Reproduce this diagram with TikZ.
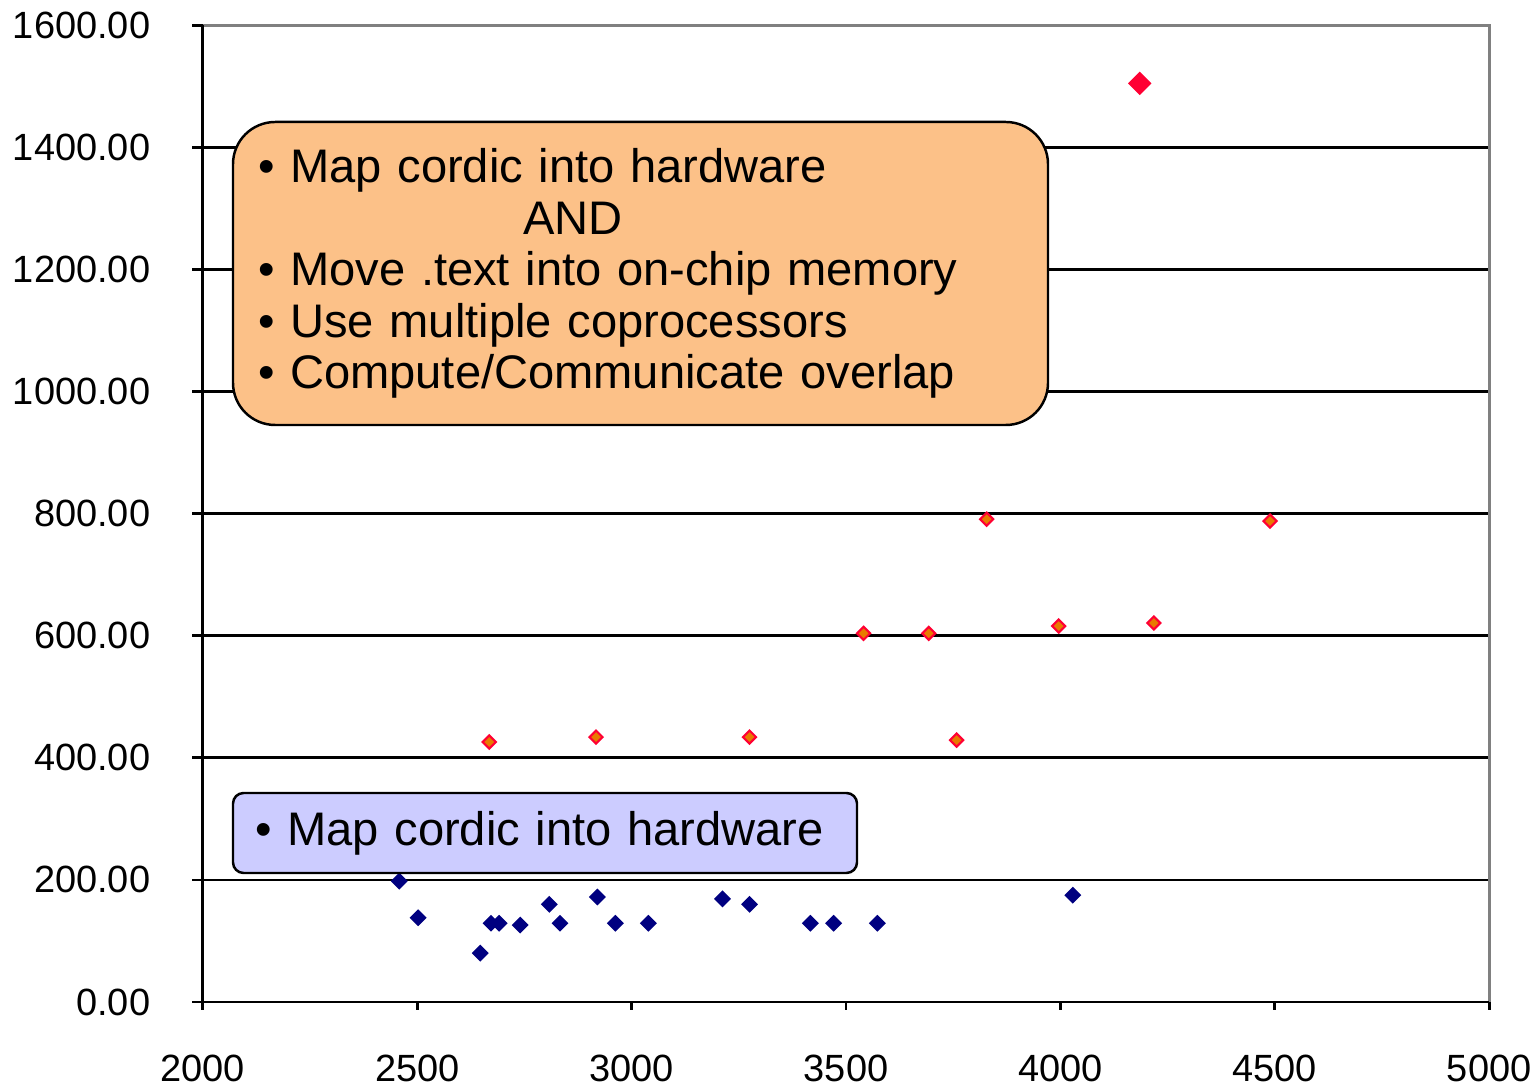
\documentclass[tikz,border=0pt]{standalone}
\usepackage{fontspec}
\setmainfont{Liberation Sans}
\usepackage{tikz}
\usetikzlibrary{shapes.geometric}
\definecolor{boxorange}{RGB}{252,193,136}
\definecolor{boxlilac}{RGB}{204,204,255}
\definecolor{ptnavy}{RGB}{0,0,128}
\definecolor{ptred}{RGB}{255,0,51}
\definecolor{ptorange}{RGB}{232,122,0}
\tikzset{
grid line/.style = { draw = black, line width = 0.8pt },
frame line/.style = { draw = black!50, line width = 0.9pt },
tick label/.style = { font = \fontsize{10.8}{12}\selectfont, inner sep = 0pt },
hw point/.style = { diamond, draw = ptnavy, fill = ptnavy, inner sep = 0pt, minimum size = 1.55mm },
ov point/.style = { diamond, draw = ptred, fill = ptorange, line width = 0.6pt, inner sep = 0pt, minimum size = 1.4mm },
big point/.style = { diamond, draw = ptred, fill = ptred, inner sep = 0pt, minimum size = 2.2mm },
note box/.style = { rectangle, draw = black, line width = 0.7pt, align = left, font = \fontsize{13.4}{14.65}\selectfont },
}

\begin{document}
\begin{tikzpicture}
    \useasboundingbox (0, 0) rectangle (15.39, 10.86);
    \begin{scope}[shift = {(-6.5466, 0.84)}, x = 0.0042833cm, y = 0.006106cm]
    % grid
    \path[grid line] (2000, 200) -- (5000, 200);
    \path[grid line] (2000, 400) -- (5000, 400);
    \path[grid line] (2000, 600) -- (5000, 600);
    \path[grid line] (2000, 800) -- (5000, 800);
    \path[grid line] (2000, 1000) -- (5000, 1000);
    \path[grid line] (2000, 1200) -- (5000, 1200);
    \path[grid line] (2000, 1400) -- (5000, 1400);
    \path[frame line] (2000, 1600) -- (5000, 1600) -- (5000, 0);
    % axes and ticks
    \path[grid line] (2000, 1600) -- (2000, 0) -- (5000, 0);
    \path[grid line] (2000, 0) -- ++(-0.11cm, 0pt);
    \path[grid line] (2000, 200) -- ++(-0.11cm, 0pt);
    \path[grid line] (2000, 400) -- ++(-0.11cm, 0pt);
    \path[grid line] (2000, 600) -- ++(-0.11cm, 0pt);
    \path[grid line] (2000, 800) -- ++(-0.11cm, 0pt);
    \path[grid line] (2000, 1000) -- ++(-0.11cm, 0pt);
    \path[grid line] (2000, 1200) -- ++(-0.11cm, 0pt);
    \path[grid line] (2000, 1400) -- ++(-0.11cm, 0pt);
    \path[grid line] (2000, 1600) -- ++(-0.11cm, 0pt);
    \path[grid line] (2000, 0) -- ++(0pt, -0.08cm);
    \path[grid line] (2500, 0) -- ++(0pt, -0.08cm);
    \path[grid line] (3000, 0) -- ++(0pt, -0.08cm);
    \path[grid line] (3500, 0) -- ++(0pt, -0.08cm);
    \path[grid line] (4000, 0) -- ++(0pt, -0.08cm);
    \path[grid line] (4500, 0) -- ++(0pt, -0.08cm);
    \path[grid line] (5000, 0) -- ++(0pt, -0.08cm);
    % tick labels
    \node[tick label, anchor = east, xshift = -0.52cm] (ylab0) at (2000, 0) {0.00};
    \node[tick label, anchor = east, xshift = -0.52cm] (ylab200) at (2000, 200) {200.00};
    \node[tick label, anchor = east, xshift = -0.52cm] (ylab400) at (2000, 400) {400.00};
    \node[tick label, anchor = east, xshift = -0.52cm] (ylab600) at (2000, 600) {600.00};
    \node[tick label, anchor = east, xshift = -0.52cm] (ylab800) at (2000, 800) {800.00};
    \node[tick label, anchor = east, xshift = -0.52cm] (ylab1000) at (2000, 1000) {1000.00};
    \node[tick label, anchor = east, xshift = -0.52cm] (ylab1200) at (2000, 1200) {1200.00};
    \node[tick label, anchor = east, xshift = -0.52cm] (ylab1400) at (2000, 1400) {1400.00};
    \node[tick label, anchor = east, xshift = -0.52cm] (ylab1600) at (2000, 1600) {1600.00};
    \node[tick label, yshift = -0.66cm] (xlab2000) at (2000, 0) {2000};
    \node[tick label, yshift = -0.66cm] (xlab2500) at (2500, 0) {2500};
    \node[tick label, yshift = -0.66cm] (xlab3000) at (3000, 0) {3000};
    \node[tick label, yshift = -0.66cm] (xlab3500) at (3500, 0) {3500};
    \node[tick label, yshift = -0.66cm] (xlab4000) at (4000, 0) {4000};
    \node[tick label, yshift = -0.66cm] (xlab4500) at (4500, 0) {4500};
    \node[tick label, yshift = -0.66cm] (xlab5000) at (5000, 0) {5000};
    % cordic in hardware only
    \node[hw point] (hw1) at (2458, 198) {};
    \node[hw point] (hw2) at (2502, 138) {};
    \node[hw point] (hw3) at (2647, 80) {};
    \node[hw point] (hw4) at (2672, 129) {};
    \node[hw point] (hw5) at (2691, 129) {};
    \node[hw point] (hw6) at (2740, 126) {};
    \node[hw point] (hw7) at (2808, 160) {};
    \node[hw point] (hw8) at (2833, 129) {};
    \node[hw point] (hw9) at (2920, 172) {};
    \node[hw point] (hw10) at (2962, 129) {};
    \node[hw point] (hw11) at (3039, 129) {};
    \node[hw point] (hw12) at (3212, 169) {};
    \node[hw point] (hw13) at (3275, 160) {};
    \node[hw point] (hw14) at (3417, 129) {};
    \node[hw point] (hw15) at (3471, 129) {};
    \node[hw point] (hw16) at (3573, 129) {};
    \node[hw point] (hw17) at (4029, 175) {};
    % all optimisations
    \node[ov point] (ov1) at (2668, 426) {};
    \node[ov point] (ov2) at (2917, 434) {};
    \node[ov point] (ov3) at (3275, 434) {};
    \node[ov point] (ov4) at (3541, 604) {};
    \node[ov point] (ov5) at (3693, 604) {};
    \node[ov point] (ov6) at (3758, 429) {};
    \node[ov point] (ov7) at (3828, 791) {};
    \node[ov point] (ov8) at (3996, 616) {};
    \node[ov point] (ov9) at (4218, 621) {};
    \node[ov point] (ov10) at (4489, 788) {};
    \node[big point] (ov11) at (4185, 1505) {};
    \end{scope}
    % notes
    \node[note box, fill = boxorange, rounded corners = 12pt, text width = 7.65cm, inner xsep = 0.25cm, minimum height = 3.03cm] (allnote) at (6.405, 8.125) {%
        \textbullet{} Map cordic into hardware\\
        \hspace*{2.65cm}AND\\
        \textbullet{} Move .text into on-chip memory\\
        \textbullet{} Use multiple coprocessors\\
        \textbullet{} Compute/Communicate overlap};
    \node[note box, fill = boxlilac, rounded corners = 3pt, text width = 5.8cm, inner xsep = 0.22cm, minimum height = 0.8cm] (hwnote) at (5.45, 2.53) {\textbullet{} Map cordic into hardware};
\end{tikzpicture}
\end{document}
